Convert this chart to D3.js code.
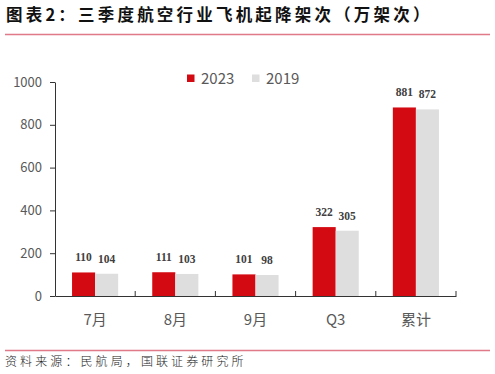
<!DOCTYPE html>
<html><head><meta charset="utf-8">
<script src="https://cdn.jsdelivr.net/npm/d3@7"></script>
<style>body{margin:0;background:#fff}svg{display:block}</style>
</head><body>
<svg id="c" width="495" height="374"></svg>
<script>
const categories = ["7月","8月","9月","Q3","累计"];
const series = ["2023","2019"];
const values2023 = [110,111,101,322,881];
const values2019 = [104,103,98,305,872];
const yTicks = [0,200,400,600,800,1000];
const colors = ["#d40a12","#dedede"];

const svg = d3.select("#c");
const m = {l:55, r:39, t:82, b:78};
const W = 495, H = 374;
const x = d3.scaleBand().domain(categories).range([m.l, W-m.r]).paddingInner(0).paddingOuter(0);
const y = d3.scaleLinear().domain([0,1000]).range([H-m.b, m.t]);
const x1 = d3.scaleBand().domain(series).range([0, x.bandwidth()*0.575]);
const off = (x.bandwidth() - x.bandwidth()*0.575)/2;

// title
svg.append("text").attr("x",6).attr("y",21).attr("font-family","Noto Sans CJK SC").attr("font-weight","bold")
  .attr("font-size",16.5).attr("letter-spacing","3.2px").attr("fill","#111").text("图表2：三季度航空行业飞机起降架次（万架次）");
svg.append("line").attr("x1",5).attr("x2",490).attr("y1",34.5).attr("y2",34.5).attr("stroke","#e07a88").attr("stroke-width",1.5);
svg.append("line").attr("x1",5).attr("x2",490).attr("y1",350.5).attr("y2",350.5).attr("stroke","#e07a88").attr("stroke-width",1.5);
svg.append("text").attr("x",5).attr("y",366).attr("font-family","Noto Sans CJK SC").attr("font-weight",300)
  .attr("font-size",12).attr("letter-spacing","3.1px").attr("fill","#222").text("资料来源：民航局，国联证券研究所");

// bars
const data = categories.map((c,i)=>({c, v:[values2023[i], values2019[i]]}));
const g = svg.append("g");
data.forEach(d=>{
  d.v.forEach((v,j)=>{
    const bx = x(d.c)+off+x1(series[j]);
    g.append("rect").attr("x",bx).attr("y",y(v)).attr("width",x1.bandwidth()).attr("height",y(0)-y(v)).attr("fill",colors[j]);
    g.append("text").attr("x",bx+x1.bandwidth()/2).attr("y",y(v)-11).attr("text-anchor","middle")
      .attr("font-family","Liberation Serif").attr("font-weight","bold").attr("font-size",11.5).attr("fill","#404040").text(v);
  });
});

// y axis
const ya = svg.append("g").attr("transform",`translate(${m.l},0)`)
  .call(d3.axisLeft(y).tickValues(yTicks).tickFormat(d3.format("d")).tickSize(5).tickPadding(8).tickSizeOuter(0));
ya.select(".domain").attr("stroke","#333");
ya.selectAll(".tick line").attr("stroke","#333");
ya.selectAll("text").attr("font-family","Noto Sans CJK SC").attr("font-size",13).attr("fill","#595959");

// x axis
const xa = svg.append("g").attr("transform",`translate(0,${y(0)})`)
  .call(d3.axisBottom(x).tickSize(0).tickPadding(18));
xa.select(".domain").attr("stroke","#333");
xa.selectAll("text").attr("font-family","Noto Sans CJK SC").attr("font-size",15).attr("fill","#595959");
const bounds = categories.map(c=>x(c)+x.bandwidth());
xa.selectAll(".bt").data(bounds).enter().append("line").attr("class","bt")
  .attr("x1",d=>d).attr("x2",d=>d).attr("y1",0).attr("y2",-5).attr("stroke","#333");

// legend
const lg = svg.append("g");
const lx = [187, 252];
series.forEach((s,j)=>{
  lg.append("rect").attr("x",lx[j]).attr("y",74.5).attr("width",7.5).attr("height",7.5).attr("fill",colors[j]);
  lg.append("text").attr("x",lx[j]+14).attr("y",84).attr("font-family","Noto Sans CJK SC").attr("font-size",15)
    .attr("fill","#595959").text(s);
});
</script>
</body></html>
